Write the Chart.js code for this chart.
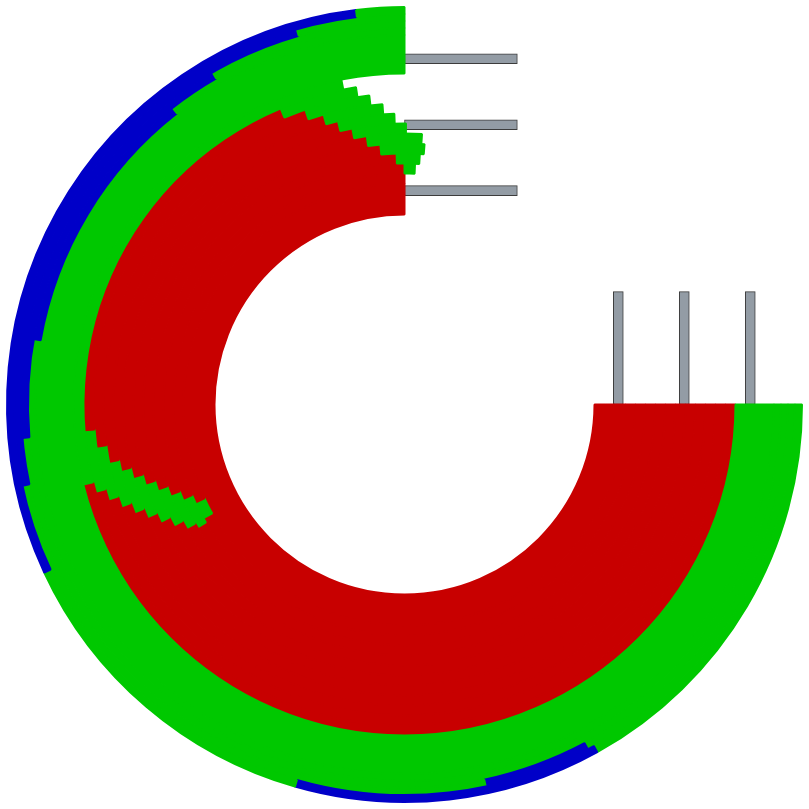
<!DOCTYPE html>
<html>
<head>
<meta charset="utf-8">
<script src="https://cdn.jsdelivr.net/npm/chart.js@4.4.1/dist/chart.umd.min.js"></script>
<style>
  html, body { margin: 0; padding: 0; background: #ffffff; }
  #wrap { position: relative; width: 809px; height: 809px; }
  #wrap canvas { position: absolute; left: 0; top: 0; }
</style>
</head>
<body>
<div id="wrap">
  <canvas id="bars" width="809" height="809"></canvas>
  <canvas id="rings" width="809" height="809"></canvas>
</div>
<script>
// ---------- data: ring segment spans in degrees, clockwise from 3 o'clock ----------
const rim1Spans = [61, 45, 49, 108, 7, 90];
const rim2Spans = [62, 16, 90, 86, 16, 90];
const rim3Spans = [175, 65, 30, 90];
const rim4Spans = [190, 42, 38, 90];
const greenBandSpans = [270, 90];
const band0Spans  = [166, 93, 101];
const band1Spans  = [164.2, 11.2, 71.9, 14, 98.7];
const band2Spans  = [162.2, 10, 79.2, 12.1, 96.5];
const band3Spans  = [160.2, 8.8, 85.4, 11.4, 94.2];
const band4Spans  = [158.2, 8.8, 89.8, 11.2, 92];
const band5Spans  = [156.3, 8.7, 94.3, 11, 89.7];
const band6Spans  = [154.3, 8.7, 99, 11.7, 86.3];
const band7Spans  = [152.3, 8.7, 103.7, 9.7, 85.6];
const band8Spans  = [150.4, 8.5, 109.3, 5.3, 86.5];
const band9Spans  = [149.3, 7.6, 113.1, 2.5, 87.5];
const band10Spans = [150.5, 4.4, 115.1, 90];
const coreSpans   = [270, 90];

// ---------- data: gray bars ----------
const barSlots   = [3.24, 4.24, 5.24];
const barLengths = [1.71, 1.71, 1.71];

// ---------- styles ----------
const BLUE = '#0000c8', GREEN = '#00c800', RED = '#c80000', NONE = 'rgba(0,0,0,0)';
const BAR_FILL = '#939ca5', BAR_EDGE = '#3c3c3c';
const RGRG = [RED, GREEN, RED, GREEN, NONE];

const rings = [
  { data: rim1Spans, colors: [GREEN, BLUE, GREEN, BLUE, GREEN, NONE], weight: 7 },
  { data: rim2Spans, colors: [GREEN, BLUE, GREEN, BLUE, GREEN, NONE], weight: 7 },
  { data: rim3Spans, colors: [GREEN, BLUE, GREEN, NONE], weight: 7 },
  { data: rim4Spans, colors: [GREEN, BLUE, GREEN, NONE], weight: 7 },
  { data: greenBandSpans, colors: [GREEN, NONE], weight: 38.5 },
  { data: band0Spans,  colors: [RED, GREEN, NONE], weight: 10 },
  { data: band1Spans,  colors: RGRG, weight: 10 },
  { data: band2Spans,  colors: RGRG, weight: 10 },
  { data: band3Spans,  colors: RGRG, weight: 10 },
  { data: band4Spans,  colors: RGRG, weight: 10 },
  { data: band5Spans,  colors: RGRG, weight: 10 },
  { data: band6Spans,  colors: RGRG, weight: 10 },
  { data: band7Spans,  colors: RGRG, weight: 10 },
  { data: band8Spans,  colors: RGRG, weight: 10 },
  { data: band9Spans,  colors: RGRG, weight: 10 },
  { data: band10Spans, colors: [RED, GREEN, RED, NONE], weight: 10 },
  { data: coreSpans,   colors: [RED, NONE], weight: 31 }
];

const barStyle = {
  backgroundColor: BAR_FILL, borderColor: BAR_EDGE, borderWidth: 1,
  borderSkipped: false, barThickness: 10, grouped: false
};

new Chart(document.getElementById('bars'), {
  type: 'bar',
  data: {
    datasets: [
      Object.assign({ indexAxis: 'x', data: barSlots.map((s, i) => ({ x: s, y: barLengths[i] })) }, barStyle),
      Object.assign({ indexAxis: 'y', data: barSlots.map((s, i) => ({ x: barLengths[i], y: s })) }, barStyle)
    ]
  },
  options: {
    responsive: false, animation: false, events: [], devicePixelRatio: 1,
    layout: { padding: 0, autoPadding: false },
    plugins: { legend: { display: false }, tooltip: { enabled: false } },
    scales: {
      x: { type: 'linear', display: false, offset: false, bounds: 'data', grace: 0, min: -6.13, max: 6.13 },
      y: { type: 'linear', display: false, offset: false, bounds: 'data', grace: 0, min: -6.13, max: 6.13 }
    }
  }
});

new Chart(document.getElementById('rings'), {
  type: 'doughnut',
  data: {
    datasets: rings.map(r => ({
      data: r.data,
      backgroundColor: r.colors,
      borderColor: r.colors,
      borderWidth: 2,
      hoverBorderWidth: 2,
      hoverOffset: 0,
      weight: r.weight
    }))
  },
  options: {
    responsive: false, animation: false, events: [], devicePixelRatio: 1,
    rotation: 90,
    circumference: 360,
    cutout: '47.8%',
    layout: { padding: 6 },
    plugins: { legend: { display: false }, tooltip: { enabled: false } }
  }
});
</script>
</body>
</html>
